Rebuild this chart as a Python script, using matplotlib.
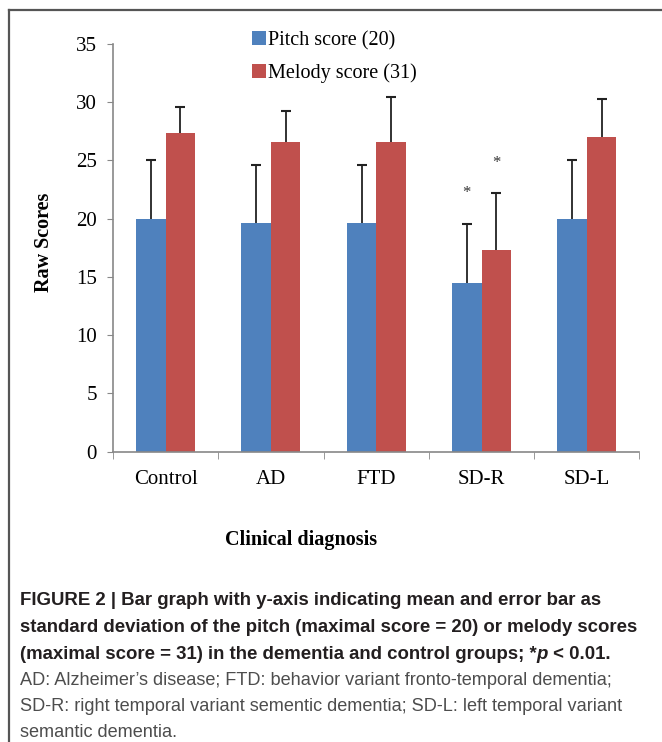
import matplotlib
matplotlib.use('Agg')
import matplotlib.pyplot as plt
import numpy as np
from matplotlib.lines import Line2D

grupos = ['Control', 'AD', 'FTD', 'SD-R', 'SD-L']
pitch = [20.0, 19.65, 19.65, 14.5, 20.0]
pitch_sd = [5.0, 5.0, 5.0, 5.0, 5.0]
melody = [27.35, 26.55, 26.55, 17.3, 27.0]
melody_sd = [2.2, 2.7, 3.9, 4.9, 3.25]
# asteriscos (p < 0.01) solo en SD-R
signif_pitch = [False, False, False, True, False]
signif_melody = [False, False, False, True, False]

serif = ['Liberation Serif', 'DejaVu Serif']
sans = ['Liberation Sans', 'DejaVu Sans']

fig = plt.figure(figsize=(6.62, 7.42), dpi=100)
ax = fig.add_axes([0.1707, 0.3915, 0.7953, 0.5492])

x = np.arange(len(grupos))
w = 0.28
azul, rojo = '#4F81BD', '#C0504D'
ax.bar(x - w/2, pitch, w, color=azul, label='Pitch score (20)', zorder=2)
ax.bar(x + w/2, melody, w, color=rojo, label='Melody score (31)', zorder=2)

# barras de error solo hacia arriba, con remate arriba
for xs, ys, sd in [(x - w/2, pitch, pitch_sd), (x + w/2, melody, melody_sd)]:
    top = np.array(ys) + np.array(sd)
    ax.vlines(xs, ys, top, color='#222222', lw=1.3, zorder=3)
    ax.plot(xs, top, ls='none', marker='_', ms=7, mew=1.5, color='#222222', zorder=3)

for i in range(len(grupos)):
    if signif_pitch[i]:
        ax.text(x[i] - w/2, pitch[i] + pitch_sd[i] + 2.7, '*', ha='center',
                va='center', fontsize=12, family=serif, color='#333333')
    if signif_melody[i]:
        ax.text(x[i] + w/2, melody[i] + melody_sd[i] + 2.6, '*', ha='center',
                va='center', fontsize=12, family=serif, color='#333333')

ax.set_xlim(-0.5, 4.5)
ax.set_ylim(0, 35)
ax.set_yticks(np.arange(0, 36, 5))
ax.set_xticks(x)
ax.set_xticklabels(grupos, family=serif, fontsize=15)
ax.set_xticks(np.arange(-0.5, 5, 1), minor=True)
ax.tick_params(axis='x', which='major', length=0, pad=13)
ax.tick_params(axis='x', which='minor', length=5, color='#888888', direction='out')
ax.tick_params(axis='y', length=4.5, color='#888888', direction='out', pad=7)
for lb in ax.get_yticklabels():
    lb.set_family(serif)
    lb.set_fontsize(15)
for s in ['top', 'right']:
    ax.spines[s].set_visible(False)
for s in ['left', 'bottom']:
    ax.spines[s].set_color('#888888')
    ax.spines[s].set_linewidth(1.2)

fig.text(44/662, 1 - 242/742, 'Raw Scores', rotation=90, ha='center', va='center',
         family=serif, fontsize=14.5, fontweight='bold')
fig.text(301/662, 1 - 540/742, 'Clinical diagnosis', ha='center', va='center',
         family=serif, fontsize=14.5, fontweight='bold')

leg = fig.legend(loc='upper left', bbox_to_anchor=(252/662, 1 - 31/742), frameon=False,
                 prop={'family': serif, 'size': 14.5}, handlelength=0.7,
                 handleheight=0.7, handletextpad=0.08, labelspacing=0.65,
                 borderpad=0, borderaxespad=0)

# marco de la figura (izquierda y arriba)
fig.add_artist(Line2D([8.5/662, 8.5/662], [0.0, 1 - 10/742], color='#555555', lw=1.6))
fig.add_artist(Line2D([8.5/662, 1.0], [1 - 10/742, 1 - 10/742], color='#555555', lw=1.6))

# pie de figura
cap = dict(family=sans, fontsize=13.4, fontweight='bold', color='#231F20', va='baseline')
fig.text(20/662, 1 - 605/742, 'FIGURE 2 | Bar graph with y-axis indicating mean and error bar as', **cap)
fig.text(20/662, 1 - 632/742, 'standard deviation of the pitch (maximal score = 20) or melody scores', **cap)
t1 = fig.text(20/662, 1 - 659/742, '(maximal score = 31) in the dementia and control groups; *', **cap)
t2 = ax.annotate('p', xy=(1, 0), xycoords=t1, va='bottom', ha='left',
                 family=sans, fontsize=13.4, fontweight='bold', style='italic', color='#231F20')
ax.annotate(' < 0.01.', xy=(1, 0), xycoords=t2, va='bottom', ha='left',
            family=sans, fontsize=13.4, fontweight='bold', color='#231F20')

nota = dict(family=sans, fontsize=13.1, color='#4D4D4D', va='baseline')
fig.text(20/662, 1 - 685/742, "AD: Alzheimer\u2019s disease; FTD: behavior variant fronto-temporal dementia;", **nota)
fig.text(20/662, 1 - 711/742, 'SD-R: right temporal variant sementic dementia; SD-L: left temporal variant', **nota)
fig.text(20/662, 1 - 737/742, 'semantic dementia.', **nota)

fig.savefig('out.png', dpi=100)
